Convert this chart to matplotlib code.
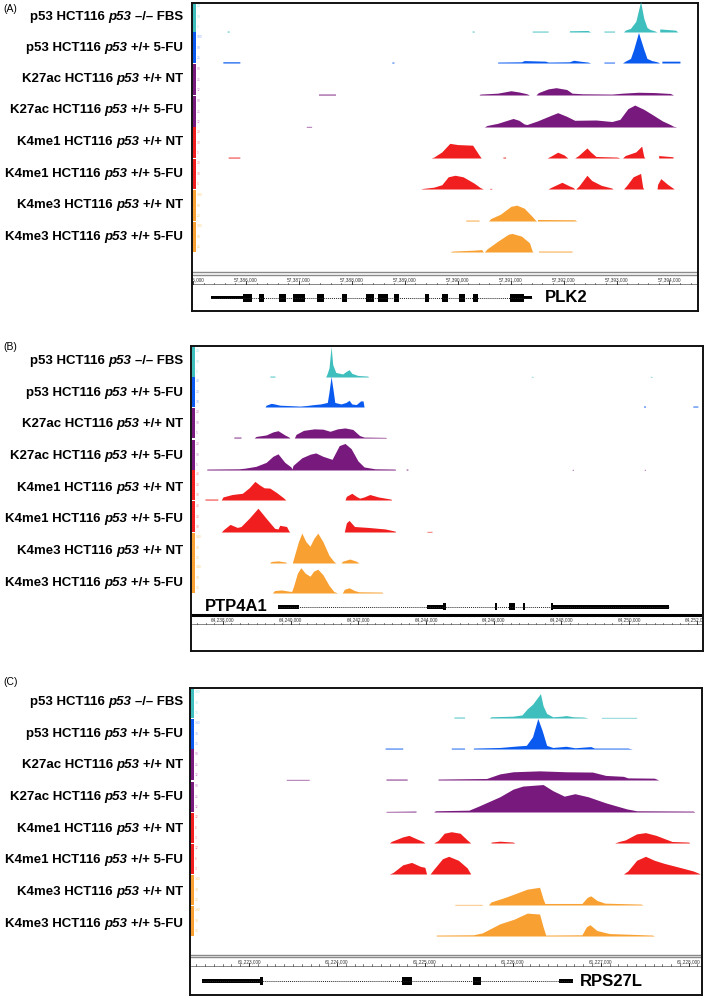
import matplotlib
matplotlib.use("Agg")
import matplotlib.pyplot as plt
from matplotlib.patches import Rectangle
from matplotlib import font_manager as fm

# ======================= DATA =======================
LABEL_MARK = ["p53", "p53", "K27ac", "K27ac", "K4me1", "K4me1", "K4me3", "K4me3"]
LABEL_CELL = "HCT116"
LABEL_GENO = "p53"
LABEL_COND = ["–/– FBS", "+/+ 5-FU", "+/+ NT", "+/+ 5-FU", "+/+ NT", "+/+ 5-FU", "+/+ NT", "+/+ 5-FU"]
TRACK_COLORS = ["#3fbebe", "#0a5af0", "#781a7d", "#781a7d", "#f01e1e", "#f01e1e", "#f8a032", "#f8a032"]
SCALE_COLORS = ["#9fe8e8", "#8fb4ff", "#d08ad4", "#d08ad4", "#ff9090", "#ff9090", "#ffd080", "#ffd080"]
SCALE_MAX_A = [20, 100, 50, 50, 20, 20, 100, 100]
SCALE_MAX_B = [20, 40, 20, 20, 40, 40, 140, 140]
SCALE_MAX_C = [140, 140, 50, 50, 12, 12, 140, 140]

# ---- Panel A (PLK2), x in kb of chr 57,xxx,000 ----
A_VIEW = (385.0, 394.52)
A_TICKS = [385, 386, 387, 388, 389, 390, 391, 392, 393, 394]
A_PREFIX = "57"
A_P53_FBS = [(385.66, 0), (385.66, 3), (385.70, 3), (385.70, 0), (390.27, 0), (390.27, 3), (390.31, 3), (390.31, 0),
             (391.40, 0), (391.40, 3), (391.70, 3), (391.70, 0), (392.10, 0), (392.10, 4), (392.45, 5), (392.50, 0),
             (392.75, 0), (392.75, 3), (392.95, 3), (392.95, 0),
             (393.12, 0), (393.15, 6), (393.25, 12), (393.35, 35), (393.44, 100), (393.50, 45), (393.56, 15),
             (393.62, 8), (393.70, 4), (393.75, 0), (393.80, 0), (393.80, 10), (394.10, 6), (394.14, 0)]
A_P53_5FU = [(385.58, 0), (385.58, 4), (385.90, 4), (385.90, 0), (388.76, 0), (388.76, 3), (388.80, 3), (388.80, 0),
             (390.75, 0), (390.75, 3), (391.20, 4), (391.25, 8), (391.65, 6), (391.70, 3), (392.10, 4), (392.18, 9),
             (392.30, 6), (392.45, 3), (392.50, 0), (392.75, 0), (392.75, 3), (392.95, 3), (392.95, 0),
             (393.10, 0), (393.15, 6), (393.25, 15), (393.31, 45), (393.40, 100), (393.50, 45), (393.56, 15),
             (393.65, 8), (393.75, 4), (393.80, 0), (393.84, 0), (393.84, 6), (394.18, 6), (394.18, 0)]
A_K27_NT = [(387.38, 0), (387.38, 3), (387.70, 3), (387.70, 0),
            (390.40, 0), (390.42, 3), (390.75, 6), (391.00, 14), (391.15, 10), (391.30, 4), (391.35, 0),
            (391.47, 0), (391.52, 8), (391.70, 20), (391.85, 24), (392.05, 18), (392.15, 6), (392.35, 4),
            (392.90, 3), (393.10, 6), (393.40, 9), (393.70, 8), (394.00, 5), (394.06, 0)]
A_K27_5FU = [(387.15, 0), (387.15, 2), (387.25, 2), (387.25, 0),
             (390.50, 0), (390.55, 5), (390.75, 12), (391.04, 28), (391.15, 22), (391.25, 10), (391.30, 8),
             (391.50, 20), (391.75, 38), (391.88, 47), (392.05, 35), (392.20, 22), (392.60, 23), (392.90, 18),
             (393.05, 25), (393.20, 60), (393.33, 72), (393.50, 58), (393.65, 42), (393.85, 20), (394.00, 8),
             (394.05, 3), (394.12, 0)]
A_K4ME1_NT = [(385.68, 0), (385.68, 3), (385.90, 3), (385.90, 0),
              (389.50, 0), (389.55, 3), (389.70, 20), (389.85, 48), (390.00, 44), (390.28, 42), (390.40, 10),
              (390.44, 0), (390.85, 0), (390.85, 3), (390.90, 3), (390.90, 0),
              (391.68, 0), (391.75, 6), (391.88, 19), (392.00, 10), (392.07, 0),
              (392.20, 0), (392.27, 8), (392.43, 33), (392.50, 20), (392.60, 5), (393.00, 3), (393.05, 0),
              (393.10, 0), (393.15, 8), (393.35, 20), (393.46, 39), (393.50, 5), (393.52, 0),
              (393.78, 0), (393.78, 8), (394.05, 4), (394.05, 0)]
A_K4ME1_5FU = [(389.30, 0), (389.35, 2), (389.55, 6), (389.70, 14), (389.82, 40), (389.95, 45), (390.10, 40),
               (390.30, 20), (390.42, 5), (390.48, 0), (390.60, 0), (390.60, 2), (390.64, 2), (390.64, 0),
               (391.70, 0), (391.75, 5), (391.96, 22), (392.10, 10), (392.17, 5), (392.20, 0),
               (392.22, 0), (392.28, 10), (392.43, 45), (392.52, 28), (392.70, 12), (392.90, 3), (392.92, 0),
               (393.12, 0), (393.18, 12), (393.30, 40), (393.44, 51), (393.48, 5), (393.50, 0),
               (393.75, 0), (393.76, 15), (393.82, 34), (393.95, 15), (394.05, 3), (394.07, 0)]
A_K4ME3_NT = [(390.15, 0), (390.15, 3), (390.40, 3), (390.40, 0),
              (390.58, 0), (390.62, 8), (390.80, 22), (391.00, 48), (391.11, 52), (391.25, 42), (391.40, 15),
              (391.46, 3), (391.48, 0), (391.50, 0), (391.50, 5), (392.20, 4), (392.24, 0)]
A_K4ME3_5FU = [(389.85, 0), (389.90, 3), (390.30, 6), (390.45, 8), (390.48, 0),
               (390.50, 0), (390.55, 10), (390.75, 35), (390.95, 58), (391.02, 61), (391.20, 52), (391.35, 30),
               (391.40, 3), (391.42, 0), (391.52, 0), (391.52, 3), (392.15, 3), (392.15, 0)]
A_GENE = "PLK2"
A_GENE_SPAN = (385.34, 391.41)
A_UTRS = [(385.34, 385.94), (391.26, 391.41)]
A_EXONS = [(385.94, 386.11), (386.24, 386.34), (386.62, 386.75), (386.88, 387.11), (387.35, 387.47),
           (387.82, 387.90), (388.27, 388.41), (388.50, 388.69), (388.80, 388.89), (389.38, 389.46),
           (389.70, 389.82), (390.02, 390.14), (390.29, 390.38), (390.98, 391.26)]

# ---- Panel B (PTP4A1), x in kb of chr 64,xxx,000 ----
B_VIEW = (237.09, 252.15)
B_TICKS = [238, 240, 242, 244, 246, 248, 250, 252]
B_PREFIX = "64"
B_P53_FBS = [(239.41, 0), (239.41, 3), (239.56, 3), (239.56, 0),
             (241.05, 0), (241.09, 10), (241.15, 30), (241.21, 100), (241.26, 40), (241.35, 15), (241.55, 10),
             (241.65, 18), (241.74, 24), (241.82, 12), (242.00, 5), (242.29, 3), (242.31, 0),
             (247.10, 0), (247.10, 2), (247.15, 2), (247.15, 0), (250.60, 0), (250.60, 2), (250.65, 2), (250.65, 0)]
B_P53_5FU = [(239.27, 0), (239.30, 6), (239.45, 12), (239.55, 10), (239.70, 6), (239.90, 5), (240.10, 4),
             (240.30, 3), (240.50, 5), (240.71, 8), (240.90, 10), (241.10, 15), (241.15, 50), (241.21, 100),
             (241.27, 55), (241.32, 15), (241.50, 10), (241.65, 15), (241.74, 22), (241.82, 10), (241.95, 8),
             (242.08, 20), (242.15, 20), (242.18, 0),
             (250.40, 0), (250.40, 3), (250.46, 3), (250.46, 0), (251.85, 0), (251.85, 3), (252.00, 3), (252.00, 0)]
B_K27_NT = [(238.35, 0), (238.35, 3), (238.56, 3), (238.56, 0),
            (238.95, 0), (239.00, 5), (239.30, 10), (239.50, 20), (239.65, 24), (239.85, 10), (239.97, 3),
            (240.00, 0), (240.13, 0), (240.18, 12), (240.40, 25), (240.71, 30), (240.97, 29), (241.18, 22),
            (241.40, 30), (241.62, 33), (241.85, 28), (242.05, 8), (242.18, 3), (242.82, 2), (242.84, 0)]
B_K27_5FU = [(237.55, 0), (237.56, 3), (238.50, 4), (238.68, 6), (239.00, 12), (239.30, 25), (239.50, 45),
             (239.65, 53), (239.85, 25), (240.03, 10), (240.06, 3), (240.09, 15), (240.35, 40), (240.60, 52),
             (240.76, 56), (240.97, 45), (241.24, 35), (241.45, 80), (241.62, 87), (241.80, 70), (242.00, 30),
             (242.18, 10), (242.50, 4), (243.09, 3), (243.11, 0),
             (243.42, 0), (243.42, 3), (243.47, 3), (243.47, 0), (248.30, 0), (248.30, 2), (248.34, 2), (248.34, 0),
             (250.42, 0), (250.42, 2), (250.46, 2), (250.46, 0)]
B_K4ME1_NT = [(237.50, 0), (237.50, 3), (237.88, 3), (237.88, 0),
              (237.98, 0), (238.03, 10), (238.30, 18), (238.60, 22), (238.80, 40), (238.97, 61), (239.10, 50),
              (239.24, 40), (239.41, 39), (239.60, 25), (239.80, 8), (239.88, 0),
              (241.62, 0), (241.66, 12), (241.82, 22), (241.95, 12), (242.05, 6), (242.18, 10), (242.35, 18),
              (242.60, 10), (242.97, 3), (242.99, 0)]
B_K4ME1_5FU = [(237.98, 0), (238.05, 8), (238.24, 25), (238.45, 15), (238.56, 18), (238.80, 45), (239.06, 78),
               (239.30, 45), (239.55, 12), (239.65, 10), (239.70, 22), (239.90, 18), (239.97, 3), (240.00, 0),
               (241.60, 0), (241.66, 30), (241.74, 38), (241.90, 18), (242.30, 15), (242.80, 10), (243.09, 3),
               (243.11, 0), (244.03, 0), (244.03, 2), (244.18, 2), (244.18, 0)]
B_K4ME3_NT = [(239.40, 0), (239.45, 5), (239.65, 7), (239.88, 3), (239.90, 0),
              (240.07, 0), (240.12, 20), (240.25, 70), (240.35, 98), (240.47, 70), (240.59, 55), (240.70, 80),
              (240.82, 98), (240.97, 70), (241.15, 25), (241.29, 5), (241.35, 0),
              (241.50, 0), (241.55, 6), (241.76, 13), (241.95, 6), (242.03, 0)]
B_K4ME3_5FU = [(239.48, 0), (239.55, 8), (239.75, 10), (239.97, 6), (240.05, 5), (240.10, 20), (240.22, 65),
               (240.32, 83), (240.45, 65), (240.59, 55), (240.70, 72), (240.82, 78), (240.97, 60), (241.15, 25),
               (241.29, 5), (241.40, 0), (241.54, 0), (241.60, 12), (241.74, 17), (241.90, 8), (242.03, 4),
               (242.71, 3), (242.73, 0)]
B_GENE = "PTP4A1"
B_GENE_SPAN = (239.62, 251.18)
B_UTRS = [(239.62, 240.26), (244.03, 244.50), (247.76, 251.18)]
B_EXONS = [(244.50, 244.58), (246.03, 246.09), (246.44, 246.62), (246.85, 246.91), (247.68, 247.76)]

# ---- Panel C (RPS27L), x in kb of chr 61,xxx,000 ----
C_VIEW = (222.34, 228.14)
C_TICKS = [223, 224, 225, 226, 227, 228]
C_PREFIX = "61"
C_P53_FBS = [(225.33, 0), (225.33, 3), (225.45, 3), (225.45, 0),
             (225.73, 0), (225.75, 4), (226.00, 6), (226.10, 10), (226.16, 30), (226.22, 45), (226.31, 80),
             (226.34, 40), (226.38, 15), (226.45, 4), (226.55, 6), (226.60, 8), (226.68, 4), (226.80, 3),
             (226.85, 0), (227.00, 0), (227.00, 2), (227.40, 2), (227.40, 0)]
C_P53_5FU = [(224.55, 0), (224.55, 3), (224.75, 3), (224.75, 0), (225.30, 0), (225.30, 3), (225.45, 3), (225.45, 0),
             (225.55, 0), (225.55, 3), (225.85, 5), (226.05, 10), (226.15, 12), (226.22, 40), (226.28, 100),
             (226.33, 60), (226.38, 12), (226.45, 5), (226.60, 9), (226.70, 4), (226.88, 8), (226.92, 3),
             (227.30, 3), (227.35, 0)]
C_K27_NT = [(223.43, 0), (223.43, 2), (223.69, 2), (223.69, 0), (224.56, 0), (224.56, 3), (224.80, 3), (224.80, 0),
            (225.15, 0), (225.15, 3), (225.70, 5), (225.85, 20), (226.00, 27), (226.30, 30), (226.60, 27),
            (226.90, 26), (227.05, 15), (227.25, 12), (227.30, 7), (227.60, 6), (227.65, 0)]
C_K27_5FU = [(224.56, 0), (224.56, 2), (224.90, 3), (224.90, 0),
             (225.10, 0), (225.12, 4), (225.50, 6), (225.60, 18), (225.85, 50), (226.00, 75), (226.11, 85),
             (226.34, 90), (226.45, 70), (226.58, 52), (226.70, 60), (226.85, 50), (227.05, 30), (227.29, 10),
             (227.40, 4), (228.04, 3), (228.06, 0)]
C_K4ME1_NT = [(224.60, 0), (224.62, 5), (224.75, 20), (224.82, 25), (224.92, 12), (224.98, 5), (225.00, 0),
              (225.10, 0), (225.15, 8), (225.22, 32), (225.30, 37), (225.40, 32), (225.48, 10), (225.52, 0),
              (225.75, 0), (225.75, 3), (225.85, 6), (226.00, 3), (226.02, 0),
              (227.15, 0), (227.20, 5), (227.27, 10), (227.40, 30), (227.50, 34), (227.62, 25), (227.71, 15),
              (227.80, 5), (227.99, 3), (228.00, 0)]
C_K4ME1_5FU = [(224.60, 0), (224.64, 5), (224.75, 30), (224.85, 38), (224.95, 25), (225.00, 22), (225.02, 0),
               (225.06, 0), (225.10, 15), (225.20, 50), (225.27, 58), (225.38, 45), (225.48, 20), (225.52, 0),
               (227.25, 0), (227.30, 10), (227.40, 45), (227.50, 58), (227.60, 45), (227.71, 35), (227.91, 20),
               (228.04, 10), (228.10, 3), (228.12, 0)]
C_K4ME3_NT = [(225.34, 0), (225.34, 2), (225.65, 2), (225.65, 0),
              (225.72, 0), (225.75, 10), (225.91, 25), (226.05, 40), (226.16, 52), (226.30, 58), (226.34, 20),
              (226.36, 5), (226.78, 5), (226.84, 25), (226.88, 30), (226.95, 15), (227.04, 6), (227.45, 3),
              (227.47, 0)]
C_K4ME3_5FU = [(225.13, 0), (225.13, 3), (225.55, 4), (225.65, 10), (225.85, 40), (226.01, 55), (226.16, 75),
               (226.30, 72), (226.34, 30), (226.37, 3), (226.78, 4), (226.83, 30), (226.87, 37), (226.95, 18),
               (227.09, 8), (227.58, 3), (227.60, 0)]
C_GENE = "RPS27L"
C_GENE_SPAN = (222.46, 226.68)
C_UTRS = [(222.46, 223.15), (226.52, 226.68)]
C_EXONS = [(223.12, 223.16), (224.74, 224.85), (225.55, 225.64)]

# ======================= LAYOUT =======================
W, H = 709, 997
fig = plt.figure(figsize=(W / 100, H / 100), dpi=100)
fig.patch.set_facecolor("white")
R = fig.canvas.get_renderer()

names = {f.name for f in fm.fontManager.ttflist}
FAMILY = "Liberation Sans" if "Liberation Sans" in names else "DejaVu Sans"
LABEL_FS = 9.5
EM = LABEL_FS * 100 / 72


def add_ax(l, t, r, b):
    return fig.add_axes([l / W, 1 - b / H, (r - l) / W, (b - t) / H])


def draw_label(xr, yc, parts):
    cur = xr
    gap = 0.278 * EM
    for txt, sty in reversed(parts):
        t = fig.text(cur / W, 1 - (yc + 0.36 * EM) / H, txt, ha="right", va="baseline",
                     fontsize=LABEL_FS, fontweight="bold", fontstyle=sty, family=FAMILY)
        cur -= t.get_window_extent(renderer=R).width + gap


PANELS = [
    dict(letter="(A)", letter_y=9, box=(192, 3, 698, 311), view=A_VIEW,
         tracks=[A_P53_FBS, A_P53_5FU, A_K27_NT, A_K27_5FU, A_K4ME1_NT, A_K4ME1_5FU, A_K4ME3_NT, A_K4ME3_5FU],
         scale=SCALE_MAX_A, base=[32, 63, 95, 127, 158, 189, 221, 252],
         label_y=[15, 46, 77, 108, 140, 172, 203, 235],
         ticks=A_TICKS, prefix=A_PREFIX, minor=0.2, ruler=(270, 285), ruler_lines=[(272.5, "#8a8a8a", 1.0), (275.3, "#8a8a8a", 1.0)],
         ruler_label_y=279.5, ruler_base=284,
         gene=(A_GENE, A_GENE_SPAN, A_UTRS, A_EXONS), gene_box=(286, 309), gene_y=297.5, utr_h=1.6, exon_h=4.0,
         gene_label_side="right", gene_label_off=9),
    dict(letter="(B)", letter_y=347, box=(191, 346, 703, 651), view=B_VIEW,
         tracks=[B_P53_FBS, B_P53_5FU, B_K27_NT, B_K27_5FU, B_K4ME1_NT, B_K4ME1_5FU, B_K4ME3_NT, B_K4ME3_5FU],
         scale=SCALE_MAX_B, base=[377, 407, 438, 470, 500, 532, 563, 593],
         label_y=[359, 391, 422, 454, 486, 517, 549, 581],
         ticks=B_TICKS, prefix=B_PREFIX, minor=0.25, ruler=(612, 626), ruler_lines=[(614.8, "black", 2.2)],
         ruler_label_y=620, ruler_base=624,
         gene=(B_GENE, B_GENE_SPAN, B_UTRS, B_EXONS), gene_box=(597, 612), gene_y=606.5, utr_h=2.0, exon_h=3.6,
         gene_label_side="left", gene_label_off=7),
    dict(letter="(C)", letter_y=682, box=(190, 688, 702, 995), view=C_VIEW,
         tracks=[C_P53_FBS, C_P53_5FU, C_K27_NT, C_K27_5FU, C_K4ME1_NT, C_K4ME1_5FU, C_K4ME3_NT, C_K4ME3_5FU],
         scale=SCALE_MAX_C, base=[718, 749, 780, 812, 843, 874, 905, 936],
         label_y=[700, 732, 763, 795, 827, 858, 890, 922],
         ticks=C_TICKS, prefix=C_PREFIX, minor=0.1, ruler=(952, 967), ruler_lines=[(954.5, "#8a8a8a", 1.0), (957.2, "#8a8a8a", 1.0)],
         ruler_label_y=961.5, ruler_base=965.5,
         gene=(C_GENE, C_GENE_SPAN, C_UTRS, C_EXONS), gene_box=(970, 992), gene_y=981, utr_h=2.2, exon_h=3.6,
         gene_label_side="right", gene_label_off=5),
]

for P in PANELS:
    bl, bt, br, bb = P["box"]
    # letter
    fig.text(3 / W, 1 - P["letter_y"] / H, P["letter"], ha="left", va="center", fontsize=7.5, family=FAMILY)
    # box
    box = add_ax(bl, bt, br, bb)
    box.set_xticks([]); box.set_yticks([])
    for s in box.spines.values():
        s.set_linewidth(1.4)
        s.set_color("#111111")
    # tracks
    for i, trk in enumerate(P["tracks"]):
        base = P["base"][i]
        top = base - 30.5
        ax = add_ax(bl, top, br, base)
        ax.set_xlim(*P["view"])
        ax.set_ylim(0, 100)
        xs = [p[0] for p in trk]
        ys = [p[1] for p in trk]
        ax.fill_between(xs, 0, ys, color=TRACK_COLORS[i], linewidth=0)
        ax.axis("off")
        # colored data-range strip
        sax = add_ax(bl + 1, top if i > 0 else bt + 1, bl + 4, base)
        sax.set_facecolor(TRACK_COLORS[i])
        sax.set_xticks([]); sax.set_yticks([])
        for s in sax.spines.values():
            s.set_visible(False)
        mx = P["scale"][i]
        for frac, val in [(0.85, mx), (0.5, mx // 2), (0.15, mx // 4)]:
            fig.text((bl + 5) / W, 1 - (base - 30.5 * frac) / H, str(val), fontsize=2.4,
                     color=SCALE_COLORS[i], ha="left", va="center", family=FAMILY)
        # label
        draw_label(183, P["label_y"][i],
                   [(LABEL_MARK[i] + " " + LABEL_CELL, "normal"), (LABEL_GENO, "italic"), (LABEL_COND[i], "normal")])
    # ruler
    rt, rb = P["ruler"]
    rax = add_ax(bl + 1, rt, br - 1, rb)
    rax.set_xlim(*P["view"])
    rax.set_ylim(rb, rt)
    rax.axis("off")
    for yy, col, lw in P["ruler_lines"]:
        rax.axhline(yy, color=col, lw=lw)
    v0, v1 = P["view"]
    rax.axhline(P["ruler_base"], color="#555555", lw=0.5)
    k = int(v0 / P["minor"]) + 1
    while k * P["minor"] < v1:
        xk = k * P["minor"]
        rax.plot([xk, xk], [P["ruler_base"], P["ruler_base"] - 1.3], color="#444444", lw=0.5)
        k += 1
    for tk in P["ticks"]:
        rax.plot([tk, tk], [P["ruler_base"], P["ruler_base"] - 3], color="#222222", lw=0.6)
        rax.text(tk, P["ruler_label_y"], f"{P['prefix']},{tk:03d},000", fontsize=3.4, color="#333333",
                 ha="center", va="center", family=FAMILY, clip_on=True)
    # gene
    name, span, utrs, exons = P["gene"]
    gt, gb = P["gene_box"]
    gax = add_ax(bl + 1, gt, br - 1, gb)
    gax.set_xlim(*P["view"])
    gax.set_ylim(gb, gt)
    gax.axis("off")
    gy = P["gene_y"]
    gax.plot([span[0], span[1]], [gy, gy], color="#222222", lw=0.7, ls=(0, (1, 1)))
    for s0, s1 in utrs:
        gax.add_patch(Rectangle((s0, gy - P["utr_h"]), s1 - s0, 2 * P["utr_h"], color="black", lw=0))
    for s0, s1 in exons:
        gax.add_patch(Rectangle((s0, gy - P["exon_h"]), s1 - s0, 2 * P["exon_h"], color="black", lw=0))
    if P["gene_label_side"] == "right":
        gax.annotate(name, xy=(span[1], gy), xytext=(P["gene_label_off"], 0), textcoords="offset points",
                     ha="left", va="center", fontsize=12, fontweight="bold", family=FAMILY)
    else:
        gax.annotate(name, xy=(span[0], gy), xytext=(-P["gene_label_off"], 0), textcoords="offset points",
                     ha="right", va="center", fontsize=12, fontweight="bold", family=FAMILY)

fig.savefig("out.png", dpi=100, facecolor="white")
